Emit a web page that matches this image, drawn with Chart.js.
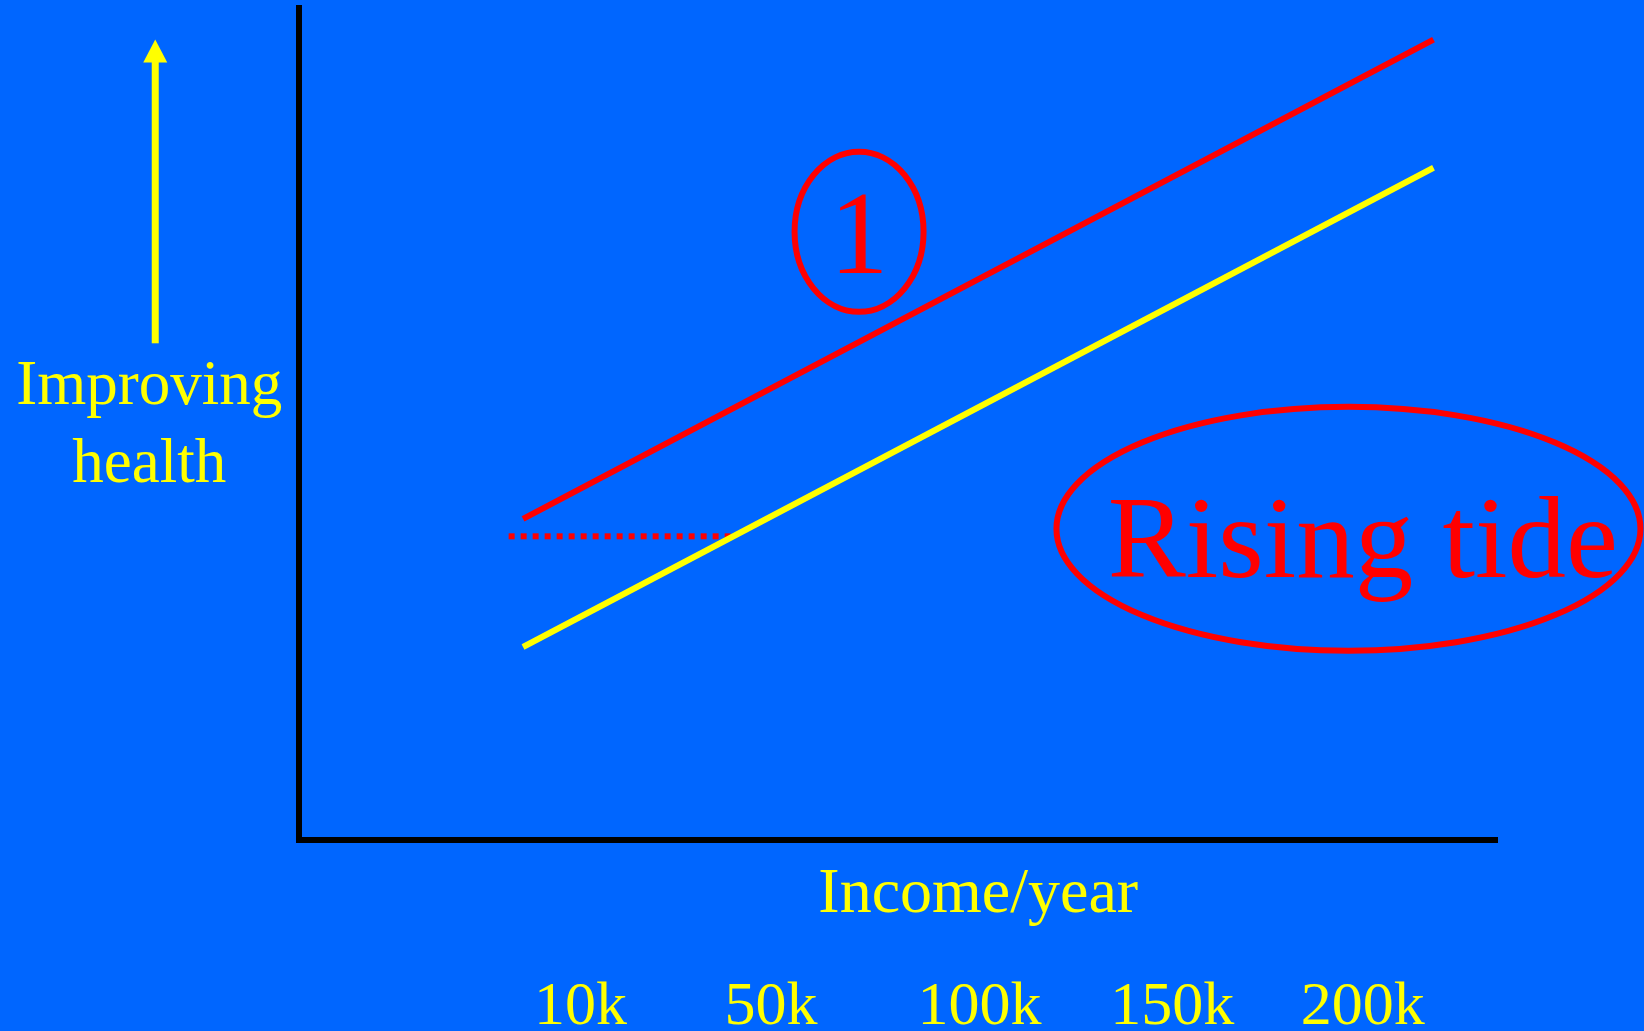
<!DOCTYPE html>
<html>
<head>
  <title>Rising tide</title>
  <script src="https://cdn.jsdelivr.net/npm/chart.js"></script>
  <style>
    body {
      margin: 0;
      padding: 0;
      background-color: #0066ff;
    }
    #chart {
      display: block;
      background-color: #0066ff;
    }
  </style>
</head>
<body>
  <canvas id="chart" width="1644" height="1031"></canvas>
  <script>
    // x: position along income axis (0-100), y: health (0-100)
    const incomeTickPos = [23.5, 39.4, 56.8, 72.9, 88.8];
    const incomeTickLabels = ['10k', '50k', '100k', '150k', '200k'];

    // upper gradient (after the rise)
    const upperX = [18.7, 94.7];
    const upperY = [38.6, 96.2];
    // lower gradient (before)
    const lowerX = [18.7, 94.7];
    const lowerY = [23.2, 80.8];
    // dotted link between the two
    const linkX = [17.5, 36.1];
    const linkY = [36.5, 36.5];

    const RED = '#ff0000';
    const YELLOW = '#ffff00';
    const SERIF = '"Liberation Serif", "Times New Roman", serif';

    function toPoints(xs, ys) {
      return xs.map((x, i) => ({ x: x, y: ys[i] }));
    }

    // annotations, placed in data units
    const notes = {
      arrow: { x: -12.0, top: 96.2, bottom: 59.7 },
      yTitle: { x: -12.5, lines: ['Improving', 'health'], y: [52.4, 43.0] },
      xTitle: { x: 56.7, y: -8.65, text: 'Income/year' },
      one: { x: 46.75, y: 73.1, text: '1', textY: 68.1 },
      tide: { x: 87.6, y: 37.4, text: 'Rising tide', textX: 88.8, textY: 31.6 }
    };

    const notesPlugin = {
      id: 'notes',
      afterDatasetsDraw(chart) {
        const c = chart.ctx;
        const xs = chart.scales.x;
        const ys = chart.scales.y;
        const px = v => xs.getPixelForValue(v);
        const py = v => ys.getPixelForValue(v);
        c.save();

        // arrow up
        const ax = px(notes.arrow.x);
        const aTop = py(notes.arrow.top);
        const aBot = py(notes.arrow.bottom);
        c.fillStyle = YELLOW;
        c.fillRect(ax - 3.5, aTop + 22, 7, aBot - aTop - 22);
        c.beginPath();
        c.moveTo(ax, aTop);
        c.lineTo(ax - 12, aTop + 23);
        c.lineTo(ax + 12, aTop + 23);
        c.closePath();
        c.fill();

        // y title
        c.font = '63px ' + SERIF;
        c.textAlign = 'center';
        c.textBaseline = 'alphabetic';
        notes.yTitle.lines.forEach((t, i) => {
          c.fillText(t, px(notes.yTitle.x), py(notes.yTitle.y[i]));
        });

        // x title
        c.font = '64px ' + SERIF;
        c.fillText(notes.xTitle.text, px(notes.xTitle.x), py(notes.xTitle.y));

        // circled 1
        c.strokeStyle = RED;
        c.lineWidth = 6;
        c.beginPath();
        c.ellipse(px(notes.one.x), py(notes.one.y), 64.5, 80, 0, 0, Math.PI * 2);
        c.stroke();
        c.fillStyle = RED;
        c.font = '118px ' + SERIF;
        c.fillText(notes.one.text, px(notes.one.x), py(notes.one.textY));

        // rising tide
        c.beginPath();
        c.ellipse(px(notes.tide.x), py(notes.tide.y), 292, 122, 0, 0, Math.PI * 2);
        c.stroke();
        c.font = '117px ' + SERIF;
        c.fillText(notes.tide.text, px(notes.tide.textX), py(notes.tide.textY));

        c.restore();
      }
    };

    const ctx = document.getElementById('chart').getContext('2d');
    const chart = new Chart(ctx, {
      type: 'scatter',
      data: {
        datasets: [
          {
            label: 'After',
            data: toPoints(upperX, upperY),
            showLine: true,
            borderColor: RED,
            borderWidth: 6,
            pointRadius: 0
          },
          {
            label: 'Before',
            data: toPoints(lowerX, lowerY),
            showLine: true,
            borderColor: YELLOW,
            borderWidth: 6,
            pointRadius: 0
          },
          {
            label: 'Link',
            data: toPoints(linkX, linkY),
            showLine: true,
            borderColor: RED,
            borderWidth: 6,
            borderDash: [6, 6],
            pointRadius: 0
          }
        ]
      },
      options: {
        responsive: false,
        animation: false,
        layout: {
          padding: { top: 8, right: 147, left: 0, bottom: 0 }
        },
        plugins: {
          legend: { display: false },
          tooltip: { enabled: false }
        },
        scales: {
          x: {
            type: 'linear',
            min: 0,
            max: 100,
            grid: { display: false, drawTicks: false },
            border: { display: true, color: '#000000', width: 6 },
            afterFit: scale => { scale.height = 191; },
            afterBuildTicks: scale => {
              scale.ticks = incomeTickPos.map(v => ({ value: v }));
            },
            ticks: {
              autoSkip: false,
              maxRotation: 0,
              padding: 131,
              color: YELLOW,
              font: { family: SERIF, size: 62 },
              callback: (value, index) => incomeTickLabels[index]
            }
          },
          y: {
            type: 'linear',
            min: 0,
            max: 100,
            grid: { display: false, drawTicks: false },
            border: { display: true, color: '#000000', width: 6 },
            afterFit: scale => { scale.width = 299; },
            ticks: { display: false }
          }
        }
      },
      plugins: [notesPlugin]
    });
  </script>
</body>
</html>
